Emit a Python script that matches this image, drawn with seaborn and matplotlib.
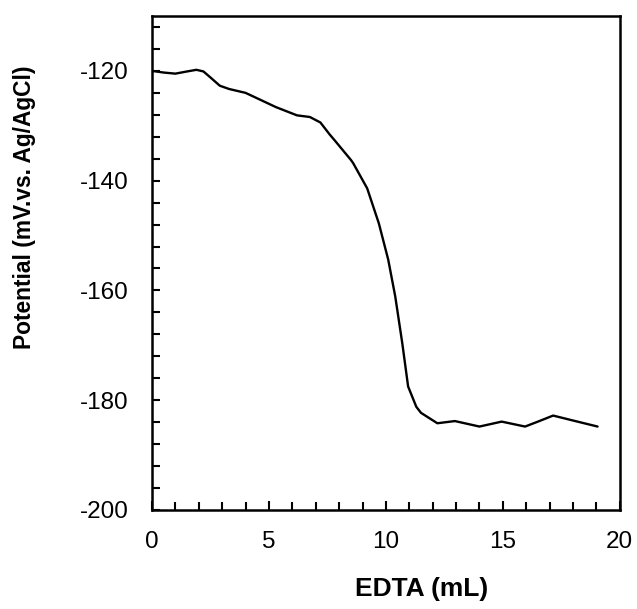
import numpy as np
import pandas as pd
import matplotlib
matplotlib.use('Agg')
import matplotlib.pyplot as plt
from matplotlib.ticker import MultipleLocator
import seaborn as sns

# points
edta = [0.0, 0.5, 1.0, 1.5, 1.9, 2.2, 2.5, 2.9, 3.3, 4.0, 4.6, 5.3, 6.2, 6.75,
        7.2, 7.6, 7.8, 8.5, 8.6, 9.2, 9.7, 10.1, 10.4, 10.7, 10.95, 11.3,
        11.5, 12.2, 12.95, 14.0, 14.95, 15.95, 16.5, 17.15, 18.0, 19.05]
potential = [-120.0, -120.3, -120.5, -120.1, -119.8, -120.1, -121.2, -122.7,
             -123.3, -124.0, -125.2, -126.6, -128.1, -128.4, -129.4, -131.6,
             -132.6, -136.2, -136.8, -141.4, -147.8, -154.4, -161.1, -169.6,
             -177.5, -181.2, -182.3, -184.2, -183.8, -184.8, -183.9, -184.8,
             -183.9, -182.8, -183.7, -184.8]

df = pd.DataFrame({'EDTA': edta, 'Potential': potential})

sns.set_style('ticks')
plt.rcParams['font.family'] = ['Liberation Sans', 'DejaVu Sans']
plt.rcParams['axes.unicode_minus'] = False

fig = plt.figure(figsize=(6.37, 6.09), dpi=100)
ax = fig.add_axes([0.2386, 0.1626, 0.7344, 0.8111])
sns.lineplot(data=df, x='EDTA', y='Potential', color='black', linewidth=1.7, ax=ax)

ax.set_xlim(0, 20)
ax.set_ylim(-200, -110)
ax.xaxis.set_major_locator(MultipleLocator(5))
ax.xaxis.set_minor_locator(MultipleLocator(1))
ax.set_yticks([-200, -180, -160, -140, -120])
ax.yaxis.set_minor_locator(MultipleLocator(4))
ax.tick_params(which='both', direction='in', width=1.5, length=5.5,
               colors='black', labelcolor='black')
ax.tick_params(which='major', labelsize=17.5)
ax.tick_params(axis='y', which='major', pad=17)
ax.tick_params(axis='x', which='major', pad=15, length=6.5)
for s in ax.spines.values():
    s.set_linewidth(1.8)
    s.set_color('black')

ax.set_xlabel('EDTA (mL)', fontsize=19, fontweight='bold', color='black')
ax.set_ylabel('Potential (mV.vs. Ag/AgCl)', fontsize=16.4, fontweight='bold', color='black')
ax.xaxis.set_label_coords(0.577, -0.136)
ax.yaxis.set_label_coords(-0.248, 0.613)

fig.savefig('out.png', dpi=100)
